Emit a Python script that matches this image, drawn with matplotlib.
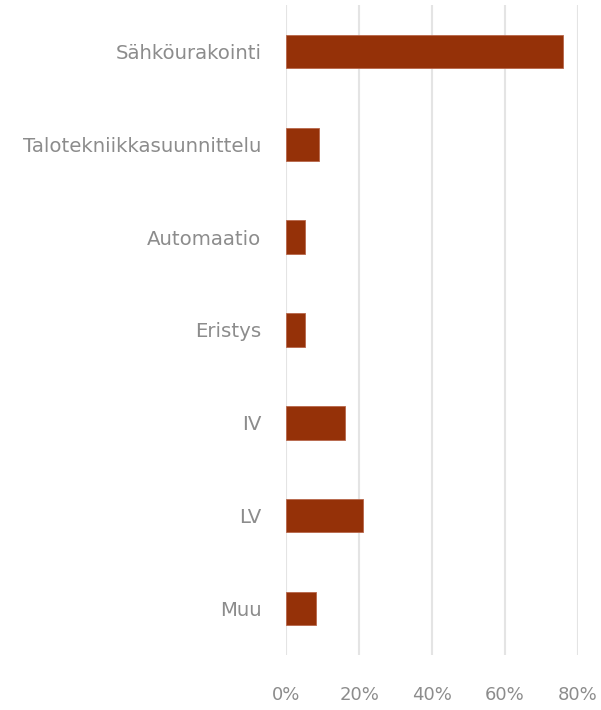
import matplotlib
matplotlib.use('Agg')
import matplotlib.pyplot as plt
from matplotlib.ticker import FuncFormatter

categories = ['Sähköurakointi', 'Talotekniikkasuunnittelu', 'Automaatio',
              'Eristys', 'IV', 'LV', 'Muu']
shares = [76, 9, 5, 5, 16, 21, 8]
xticks = [0, 20, 40, 60, 80]

BAR = '#953108'
TXT = '#8c8c8c'

plt.rcParams['font.family'] = ['DejaVu Sans']

fig = plt.figure(figsize=(6.01, 7.10), dpi=100)
ax = fig.add_axes([0.4767, 0.0775, 0.4850, 0.9155])

pos = list(range(len(categories)))
ax.barh(pos, shares, height=0.36, color=BAR, edgecolor='#b8664a', linewidth=0.6, zorder=3)
ax.set_yticks(pos)
ax.set_yticklabels(categories)
ax.set_ylim(len(categories) - 0.5, -0.5)
ax.set_xlim(0, 80)
ax.set_xticks(xticks)
ax.xaxis.set_major_formatter(FuncFormatter(lambda v, _: f'{v:.0f}%'))

ax.grid(axis='x', color='#e4e4e4', linewidth=1.5, zorder=0)
for s in ax.spines.values():
    s.set_visible(False)
ax.tick_params(axis='both', length=0, labelcolor=TXT)
ax.tick_params(axis='y', pad=18, labelsize=14.2)
ax.tick_params(axis='x', pad=22, labelsize=13)
ax.set_axisbelow(True)

fig.savefig('out.png', dpi=100, facecolor='white')
